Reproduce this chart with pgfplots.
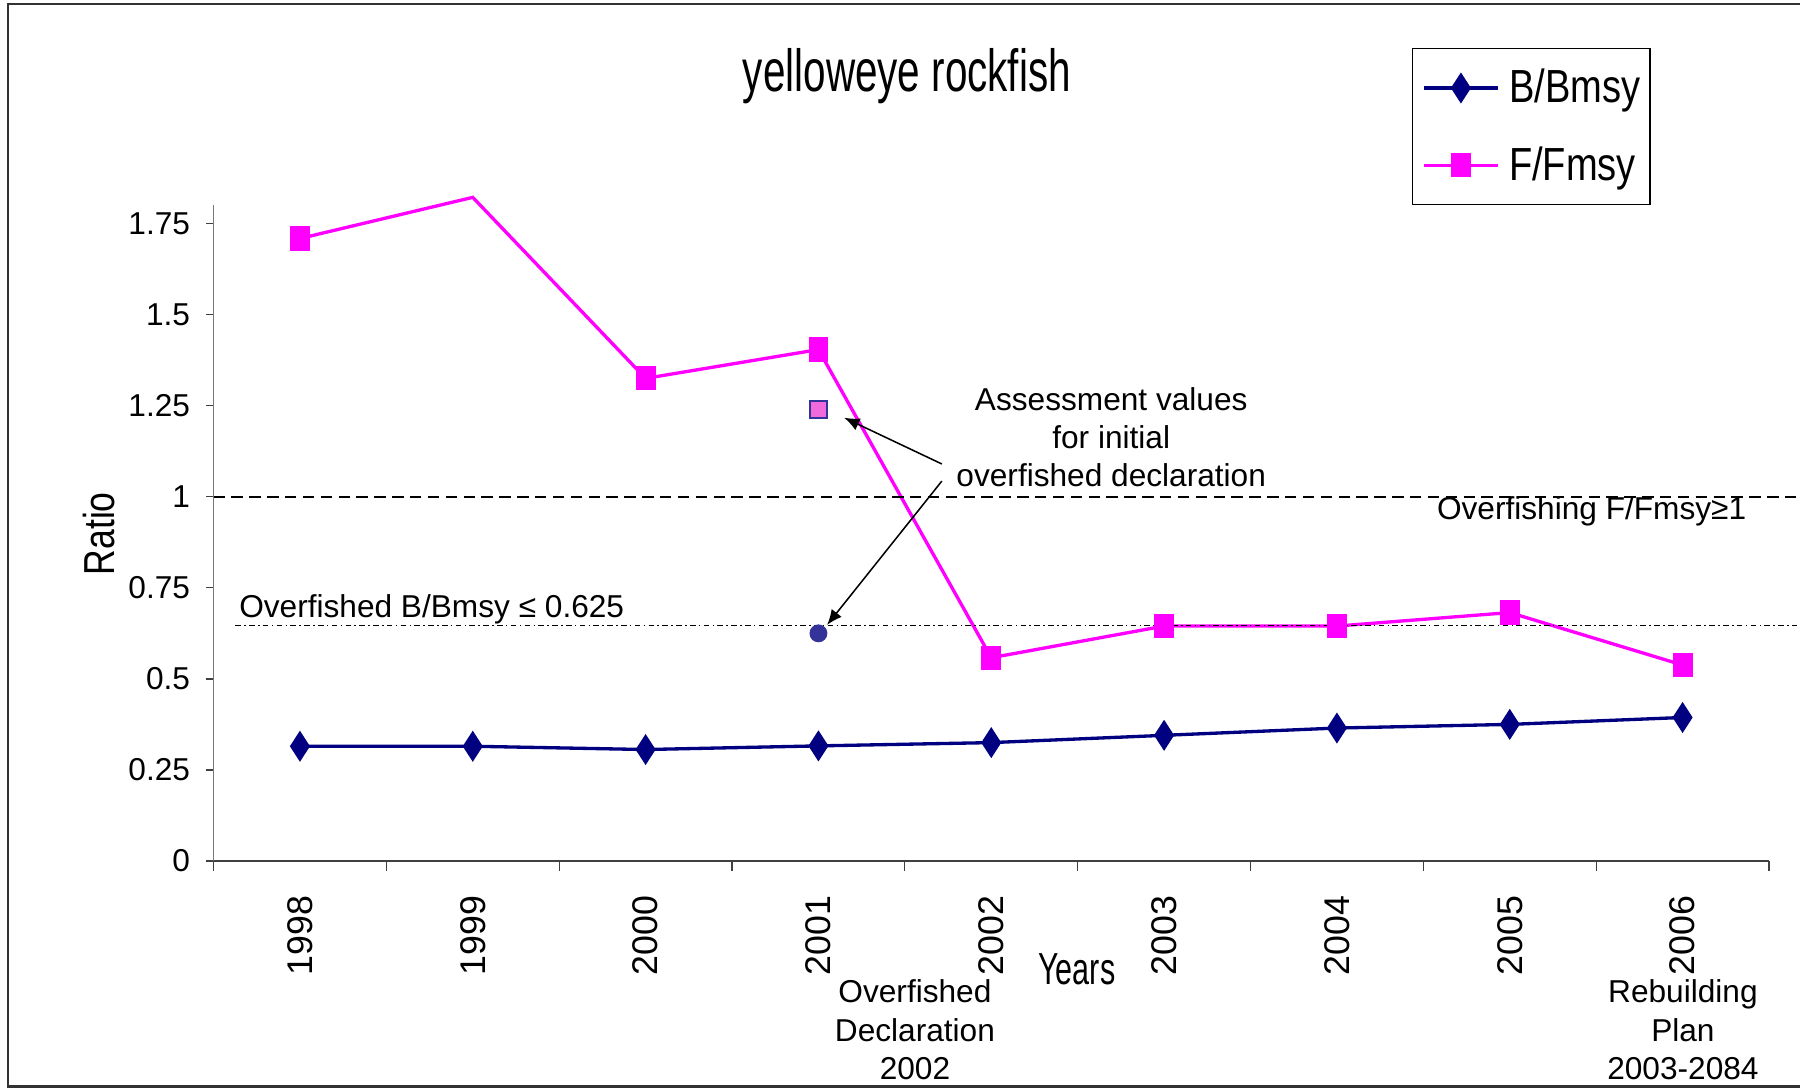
\documentclass[border=0pt]{standalone}
\usepackage{pgfplots}
\pgfplotsset{compat=1.18}
\usepackage{fontspec}
\setmainfont{Liberation Sans}
\newfontfamily\narrowfont[FakeStretch=0.68]{Liberation Sans}
\newfontfamily\legfont[FakeStretch=0.82]{Liberation Sans}
\usetikzlibrary{arrows.meta}
\definecolor{bnavy}{RGB}{0,0,128}
\definecolor{fmag}{RGB}{255,0,255}
\definecolor{apink}{RGB}{240,106,219}
\definecolor{ablue}{RGB}{51,51,153}
\definecolor{axgray}{RGB}{120,120,120}
\definecolor{framegray}{RGB}{50,50,50}

\pgfplotstableread{
x  b
0  0.315
1  0.315
2  0.306
3  0.316
4  0.325
5  0.345
6  0.365
7  0.375
8  0.394
}\Bdata
\pgfplotstableread{
x  f
0  1.709
1  1.822
2  1.325
3  1.404
4  0.558
5  0.645
6  0.645
7  0.682
8  0.538
}\Fdata

\newcommand{\annfont}{\fontsize{12.4}{14.9}\selectfont}
\begin{document}
\begin{tikzpicture}
\useasboundingbox (-83.7pt,-89.1pt) rectangle (621.9pt,337.5pt);
\draw[framegray, line width=0.8pt] (622pt,335.9pt) -- (-80.4pt,335.9pt) -- (-80.4pt,-88.4pt) -- (622pt,-88.4pt);
\begin{axis}[
  at={(0pt,0pt)}, anchor=south west,
  scale only axis, width=609.75pt, height=257pt,
  xmin=-0.5, xmax=8.5, ymin=0, ymax=1.8,
  clip=false,
  axis x line*=bottom, axis y line*=left,
  x axis line style={black!75, line width=0.5pt},
  y axis line style={axgray, line width=0.5pt},
  tick align=outside,
  xtick={0,1,2,3,4,5,6,7,8},
  xticklabels={1998,1999,2000,2001,2002,2003,2004,2005,2006},
  minor xtick={-0.5,0.5,1.5,2.5,3.5,4.5,5.5,6.5,7.5,8.5},
  major x tick style={draw=none},
  minor x tick style={black!75, line width=0.5pt},
  minor tick length=3.9pt,
  major tick length=3pt,
  ytick={0,0.25,0.5,0.75,1,1.25,1.5,1.75},
  yticklabels={0,0.25,0.5,0.75,1,1.25,1.5,1.75},
  major y tick style={black!75, line width=0.5pt},
  xticklabel style={rotate=90, anchor=east, inner sep=0pt, font=\fontsize{14}{16}\selectfont},
  yticklabel style={anchor=east, inner sep=0pt, font=\fontsize{12.4}{14}\selectfont},
  xticklabel shift=10.5pt,
  yticklabel shift=6pt,
  /pgf/number format/assume math mode=true,
  legend cell align=left,
  legend image code/.code={\draw[mark repeat=2,mark phase=2,#1] plot coordinates {(0pt,0pt) (14.6pt,0pt) (29.2pt,0pt)};},
  legend style={at={(0.7703,1.2397)}, anchor=north west, draw=black, line width=0.5pt,
    fill=white, font=\legfont\fontsize{18.2}{20}\selectfont,
    inner xsep=3.8pt, inner ysep=2pt, row sep=3.6pt,
    nodes={inner xsep=0pt, inner ysep=6pt},
    /tikz/every odd column/.append style={column sep=3.6pt}},
]
\addplot[bnavy, line width=1.3pt, mark=diamond*, mark size=4.9pt,
  mark options={xscale=0.86, solid, fill=bnavy}] table[x=x,y=b] {\Bdata};
\addlegendentry{B/Bmsy}
\addplot[fmag, line width=1.3pt, mark=square*, mark size=4.1pt,
  mark options={xscale=0.79, solid, fill=fmag},
  mark indices={1,3,4,5,6,7,8,9}, forget plot] table[x=x,y=f] {\Fdata};
\addlegendimage{fmag, line width=1.3pt, mark=square*, mark size=4.1pt,
  mark options={xscale=0.79, solid, fill=fmag}}
\addlegendentry{F/Fmsy}
% assessment values
\addplot[only marks, mark=square*, mark size=3.3pt, mark options={draw=ablue, fill=apink, line width=0.6pt}, forget plot]
  coordinates {(3,1.240)};
\addplot[only marks, mark=*, mark size=3.3pt, mark options={draw=ablue, fill=ablue}, forget plot]
  coordinates {(3,0.625)};
% reference lines
\addplot[black, line width=0.6pt, dash pattern=on 4.5pt off 2.5pt, forget plot]
  coordinates {(-0.5,1) (8.66,1)};
\addplot[black, line width=0.55pt, dash pattern=on 2.2pt off 1.3pt on 0.6pt off 1.3pt, forget plot]
  coordinates {(-0.374,0.647) (8.66,0.647)};
% arrows
\draw[black, line width=0.6pt, -{Latex[length=6pt,width=5pt]}] (axis cs:3.714,1.090) -- (axis cs:3.149,1.217);
\draw[black, line width=0.6pt, -{Latex[length=6pt,width=5pt]}] (axis cs:3.714,1.043) -- (axis cs:3.05,0.648);
\end{axis}
% titles and labels
\node[font=\narrowfont\fontsize{23.3}{28}\selectfont, anchor=base] at (271.8pt,301.5pt) {yelloweye rockfish};
\node[font=\legfont\fontsize{17}{20}\selectfont, rotate=90] at (-45pt,128.25pt) {Ratio};
\node[font=\narrowfont\fontsize{17.6}{20}\selectfont, anchor=base] at (338.4pt,-48.6pt) {Years};
% annotations
\node[font=\annfont, anchor=base] at (351.9pt,176.5pt) {Assessment values};
\node[font=\annfont, anchor=base] at (351.9pt,161.6pt) {for initial};
\node[font=\annfont, anchor=base] at (351.9pt,146.7pt) {overfished declaration};
\node[font=\annfont, anchor=base east, inner sep=0pt] at (601pt,133.8pt) {Overfishing F/Fmsy≥1};
\node[font=\annfont, anchor=base west, inner sep=0pt] at (9.9pt,95.5pt) {Overfished B/Bmsy ≤ 0.625};
\node[font=\annfont, anchor=base] at (274.95pt,-55.4pt) {Overfished};
\node[font=\annfont, anchor=base] at (274.95pt,-70.6pt) {Declaration};
\node[font=\annfont, anchor=base] at (274.95pt,-85.7pt) {2002};
\node[font=\annfont, anchor=base] at (576pt,-55.4pt) {Rebuilding};
\node[font=\annfont, anchor=base] at (576pt,-70.6pt) {Plan};
\node[font=\annfont, anchor=base] at (576pt,-85.7pt) {2003-2084};
\end{tikzpicture}
\end{document}
